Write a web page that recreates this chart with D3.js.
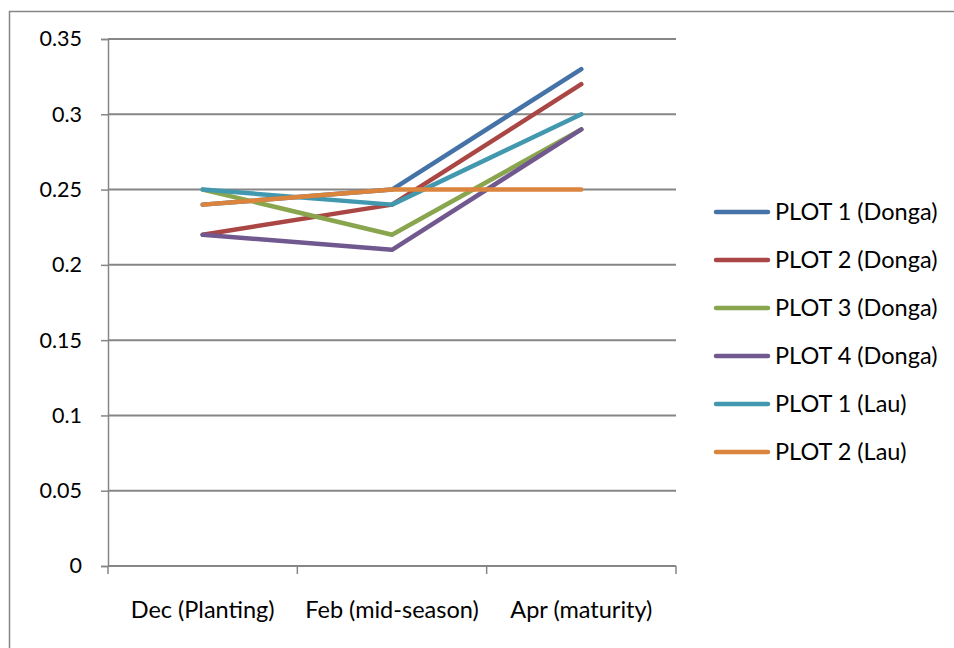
<!DOCTYPE html>
<html>
<head>
<meta charset="utf-8">
<script src="https://cdn.jsdelivr.net/npm/d3@7"></script>
<style>
  body { margin: 0; background: #fff; }
  svg text { font-family: Lato, "Open Sans", sans-serif; fill: #000; }
</style>
</head>
<body>
<div id="chart"></div>
<script>
var months = ['Dec (Planting)', 'Feb (mid-season)', 'Apr (maturity)'];
var series_names = ['PLOT 1 (Donga)', 'PLOT 2 (Donga)', 'PLOT 3 (Donga)', 'PLOT 4 (Donga)', 'PLOT 1 (Lau)', 'PLOT 2 (Lau)'];
var plot1_donga = [0.24, 0.25, 0.33];
var plot2_donga = [0.22, 0.24, 0.32];
var plot3_donga = [0.25, 0.22, 0.29];
var plot4_donga = [0.22, 0.21, 0.29];
var plot1_lau = [0.25, 0.24, 0.30];
var plot2_lau = [0.24, 0.25, 0.25];
var y_ticks = [0, 0.05, 0.1, 0.15, 0.2, 0.25, 0.3, 0.35];
var series_colors = ['#4572A7', '#AA4643', '#89A54E', '#71588F', '#4198AF', '#DB843D'];

var series = [plot1_donga, plot2_donga, plot3_donga, plot4_donga, plot1_lau, plot2_lau];

var width = 954, height = 648;
var margin = {top: 39, left: 108, right: 278, bottom: 82};
var grid_color = '#868686';

var svg = d3.select('#chart').append('svg')
    .attr('width', width)
    .attr('height', height);

// outer chart frame (runs off the right and bottom edges)
svg.append('rect')
    .attr('x', 9.5)
    .attr('y', 11.5)
    .attr('width', width)
    .attr('height', height)
    .attr('fill', 'none')
    .attr('stroke', grid_color)
    .attr('stroke-width', 1.5);

var x = d3.scalePoint()
    .domain(months)
    .range([margin.left, width - margin.right])
    .padding(0.5);
var x_band = d3.scaleBand()
    .domain(months)
    .range([margin.left, width - margin.right]);
var y = d3.scaleLinear()
    .domain([0, 0.35])
    .range([height - margin.bottom, margin.top]);

// gridlines + y axis
var y_axis = svg.append('g')
    .attr('transform', 'translate(' + margin.left + ',0)')
    .call(d3.axisLeft(y).tickValues(y_ticks).tickSize(7).tickPadding(19)
          .tickFormat(function(d){ return d === 0 ? '0' : String(+d.toFixed(2)); }));
y_axis.select('.domain').attr('stroke', grid_color).attr('stroke-width', 1.5);
y_axis.selectAll('.tick line').attr('stroke', grid_color).attr('stroke-width', 1.5);
y_axis.selectAll('.tick text').style('font-size', '21.5px');

svg.append('g').selectAll('line')
    .data(y_ticks.filter(function(d){ return d > 0; }))
    .enter().append('line')
    .attr('x1', margin.left)
    .attr('x2', width - margin.right)
    .attr('y1', function(d){ return y(d); })
    .attr('y2', function(d){ return y(d); })
    .attr('stroke', grid_color)
    .attr('stroke-width', 2);

// x axis: ticks sit on category boundaries
var x_axis = svg.append('g')
    .attr('transform', 'translate(0,' + y(0) + ')');
x_axis.append('line')
    .attr('x1', margin.left)
    .attr('x2', width - margin.right)
    .attr('stroke', grid_color)
    .attr('stroke-width', 2);
var edges = months.map(function(m){ return x_band(m); }).concat([x_band.range()[1]]);
x_axis.selectAll('.xtick')
    .data(edges)
    .enter().append('line')
    .attr('class', 'xtick')
    .attr('x1', function(d){ return d; })
    .attr('x2', function(d){ return d; })
    .attr('y1', 0)
    .attr('y2', 8)
    .attr('stroke', grid_color)
    .attr('stroke-width', 1.5);
x_axis.selectAll('.xlabel')
    .data(months)
    .enter().append('text')
    .attr('class', 'xlabel')
    .attr('x', function(d){ return x(d); })
    .attr('y', 52)
    .attr('text-anchor', 'middle')
    .style('font-size', '23.5px')
    .text(function(d){ return d; });

// lines
var line = d3.line()
    .x(function(d, i){ return x(months[i]); })
    .y(function(d){ return y(d); });

svg.append('g').selectAll('path')
    .data(series)
    .enter().append('path')
    .attr('d', line)
    .attr('fill', 'none')
    .attr('stroke', function(d, i){ return series_colors[i]; })
    .attr('stroke-width', 4.5)
    .attr('stroke-linecap', 'round')
    .attr('stroke-linejoin', 'round');

// legend
var legend = svg.append('g')
    .attr('transform', 'translate(716,212)');
var rows = legend.selectAll('g')
    .data(series_names)
    .enter().append('g')
    .attr('transform', function(d, i){ return 'translate(0,' + (i * 48) + ')'; });
rows.append('line')
    .attr('x1', 0)
    .attr('x2', 52)
    .attr('stroke', function(d, i){ return series_colors[i]; })
    .attr('stroke-width', 4.5)
    .attr('stroke-linecap', 'round');
rows.append('text')
    .attr('x', 59)
    .attr('y', 0)
    .attr('dy', '0.35em')
    .style('font-size', '23.5px')
    .text(function(d){ return d; });
</script>
</body>
</html>
